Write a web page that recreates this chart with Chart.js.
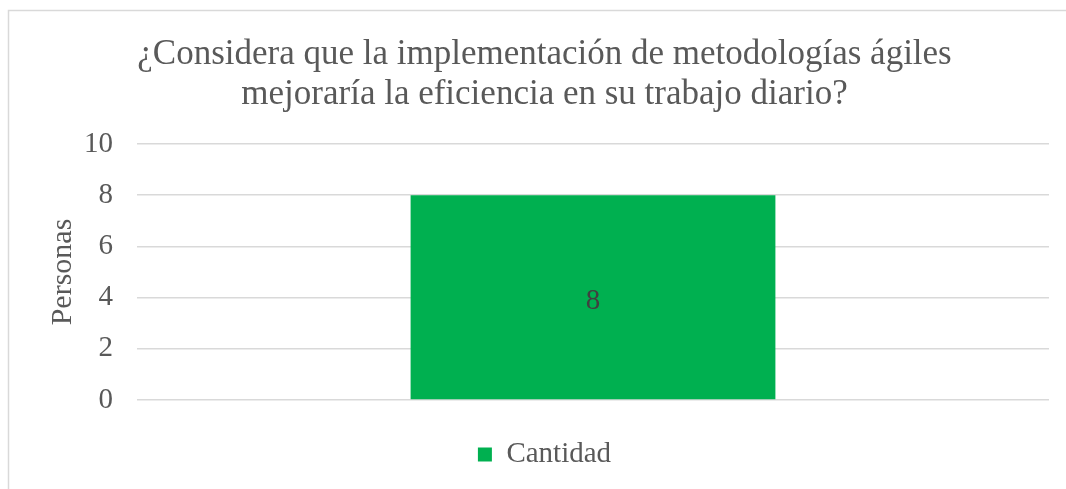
<!DOCTYPE html>
<html>
<head>
<meta charset="utf-8">
<script src="https://cdn.jsdelivr.net/npm/chart.js@4.4.1/dist/chart.umd.min.js"></script>
<style>
  html, body { margin: 0; padding: 0; background: #fff; overflow: hidden; }
  #wrap { position: relative; width: 1066px; height: 489px; }
</style>
</head>
<body>
<div id="wrap">
  <canvas id="myChart"></canvas>
</div>
<script>
const categories = [""];
const cantidad = [8];
const titleLines = ["¿Considera que la implementación de metodologías ágiles", "mejoraría la eficiencia en su trabajo diario?"];
const yTicks = { min: 0, max: 10, step: 2 };

const serif = "'Liberation Serif', 'Times New Roman', serif";
const grey = "#595959";

// chart frame: only the left and top edges are visible in the original
const frame = {
  id: "frame",
  afterDraw(chart) {
    const ctx = chart.ctx;
    ctx.save();
    ctx.strokeStyle = "#d9d9d9";
    ctx.lineWidth = 1.5;
    ctx.beginPath();
    ctx.moveTo(8.5, chart.height);
    ctx.lineTo(8.5, 10.5);
    ctx.lineTo(chart.width, 10.5);
    ctx.stroke();
    ctx.restore();
  }
};

const barValueLabels = {
  id: "barValueLabels",
  afterDatasetsDraw(chart) {
    const ctx = chart.ctx;
    chart.data.datasets.forEach((ds, i) => {
      chart.getDatasetMeta(i).data.forEach((bar, j) => {
        ctx.save();
        ctx.font = "29px " + serif;
        ctx.fillStyle = "#404040";
        ctx.textAlign = "center";
        ctx.textBaseline = "middle";
        ctx.fillText(ds.data[j], bar.x, (bar.y + bar.base) / 2 + 4);
        ctx.restore();
      });
    });
  }
};

const ctx = document.getElementById("myChart").getContext("2d");
const myChart = new Chart(ctx, {
  type: "bar",
  data: {
    labels: categories,
    datasets: [{
      label: "Cantidad",
      data: cantidad,
      backgroundColor: "#00B050",
      barPercentage: 0.4,
      categoryPercentage: 1
    }]
  },
  plugins: [barValueLabels, frame],
  options: {
    responsive: true,
    maintainAspectRatio: false,
    animation: false,
    layout: { padding: { top: 10, left: 40, right: 17, bottom: 10 } },
    plugins: {
      title: {
        display: true,
        text: titleLines,
        color: grey,
        font: { family: serif, size: 35, weight: "normal", lineHeight: 1.143 },
        padding: { top: 25, bottom: 29 }
      },
      legend: {
        position: "bottom",
        labels: {
          color: grey,
          font: { family: serif, size: 29 },
          boxWidth: 14,
          boxHeight: 14,
          padding: 10
        }
      },
      tooltip: { enabled: false }
    },
    scales: {
      x: {
        grid: { display: false },
        border: { display: false },
        ticks: { display: false },
        afterFit: (scale) => { scale.height = 30; }
      },
      y: {
        min: yTicks.min,
        max: yTicks.max,
        afterFit: (scale) => { scale.width = 97; },
        ticks: {
          stepSize: yTicks.step,
          color: grey,
          font: { family: serif, size: 29 },
          padding: 24
        },
        grid: { color: "#d9d9d9", lineWidth: 1.5, drawTicks: false },
        border: { display: false },
        title: {
          display: true,
          text: "Personas",
          color: grey,
          font: { family: serif, size: 30 },
          padding: { top: 5, bottom: 0 }
        }
      }
    }
  }
});
</script>
</body>
</html>
